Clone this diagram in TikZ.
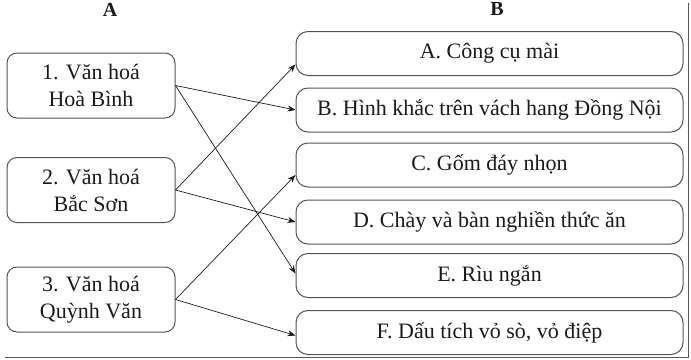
\documentclass[tikz,border=0pt]{standalone}
\usepackage{fontspec}
\setmainfont{Liberation Serif}
\usetikzlibrary{arrows.meta,positioning}
\definecolor{ink}{HTML}{1A1A1A}
\definecolor{edgegray}{HTML}{555555}
\tikzset{
  culture/.style={draw=edgegray,line width=1pt,rounded corners=10pt,
                  minimum width=168pt,minimum height=65pt,align=center,
                  inner sep=2pt,text=ink,font=\fontsize{22}{27}\selectfont},
  trait/.style={draw=edgegray,line width=1pt,rounded corners=12pt,
                minimum width=387pt,minimum height=44pt,align=center,
                inner sep=2pt,text=ink,font=\fontsize{22}{27}\selectfont},
  colhead/.style={text=ink,font=\bfseries\fontsize{20}{24}\selectfont},
  matcharr/.style={-{Stealth[length=8pt,width=6pt]},line width=0.7pt,
                   draw=ink},
  borderline/.style={draw=edgegray,line width=1pt}
}
\begin{document}
\begin{tikzpicture}[x=1pt,y=-1pt]
    \path[use as bounding box] (0,0) rectangle (691,359);
    % column heads
    \node[colhead] (hA) at (110,10) {A};
    \node[colhead] (hB) at (497,9) {B};
    % cultures
    \node[culture] (c1) at (91,85.5) {1. Văn hoá\\Hoà Bình};
    \node[culture] (c2) at (91,190) {2. Văn hoá\\Bắc Sơn};
    \node[culture] (c3) at (91,299.5) {3. Văn hoá\\Quỳnh Văn};
    % traits
    \node[trait] (tA) at (489.5,53.5) {A. Công cụ mài};
    \node[trait] (tB) at (489.5,110) {B. Hình khắc trên vách hang Đồng Nội};
    \node[trait] (tC) at (489.5,165) {C. Gốm đáy nhọn};
    \node[trait] (tD) at (489.5,222) {D. Chày và bàn nghiền thức ăn};
    \node[trait] (tE) at (489.5,275.5) {E. Rìu ngắn};
    \node[trait] (tF) at (489.5,332.5) {F. Dấu tích vỏ sò, vỏ điệp};
    % matches
    \draw[matcharr] (c1.east) -- (tB.west);
    \draw[matcharr] (c1.east) -- ([yshift=2pt]tE.west);
    \draw[matcharr] (c2.east) -- ([yshift=-11pt]tA.west);
    \draw[matcharr] (c2.east) -- (tD.west);
    \draw[matcharr] (c3.east) -- ([yshift=-10pt]tC.west);
    \draw[matcharr] (c3.east) -- ([yshift=-3pt]tF.west);
    % page border
    \coordinate (rt) at (688.5,3);
    \coordinate (rb) at (688.5,357.5);
    \coordinate (lb) at (5,357.5);
    \draw[borderline] (rt) -- (rb) -- (lb);
\end{tikzpicture}
\end{document}
